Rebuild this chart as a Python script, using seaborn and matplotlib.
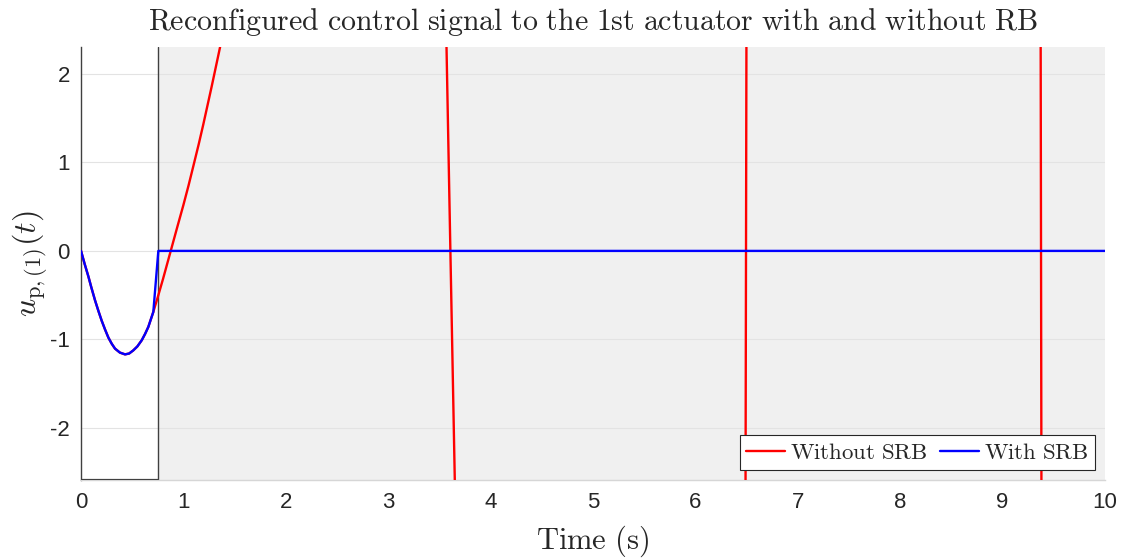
import numpy as np
import pandas as pd
import matplotlib
matplotlib.use("Agg")
import matplotlib.pyplot as plt
import seaborn as sns

# Control signal to actuator 1 without the supervisory reconfiguration block
t_without = [0, 0.036, 0.072, 0.10, 0.137, 0.17, 0.202, 0.235, 0.267, 0.30, 0.332,
             0.38, 0.43, 0.47, 0.51, 0.55, 0.593, 0.625, 0.657, 0.68, 0.706,
             0.75, 0.80, 0.876, 0.94, 1.0, 1.05, 1.097, 1.15, 1.194, 1.276, 1.357,
             1.6, 2.2, 2.8, 3.3, 3.52, 3.607, 3.69, 4.2, 5.0, 5.8, 6.3, 6.48,
             6.494, 6.508, 7.0, 8.0, 8.9, 9.36, 9.375, 9.39, 10.0]
u_without = [0, -0.15, -0.29, -0.41, -0.56, -0.68, -0.79, -0.89, -0.98, -1.05, -1.105,
             -1.15, -1.17, -1.16, -1.125, -1.08, -1.01, -0.94, -0.86, -0.78, -0.69,
             -0.52, -0.32, 0, 0.27, 0.52, 0.74, 0.96, 1.21, 1.43, 1.86, 2.3,
             4.0, 9.0, 11.0, 8.0, 5.3, 0, -5.0, -30.0, -50.0, -40.0, -20.0, -8.0,
             0, 8.0, 100.0, 600.0, 300.0, 10.0, 0, -10.0, -800.0]

# Control signal with the reconfiguration block active
t_with = [0, 0.036, 0.072, 0.10, 0.137, 0.17, 0.202, 0.235, 0.267, 0.30, 0.332,
          0.38, 0.43, 0.47, 0.51, 0.55, 0.593, 0.625, 0.657, 0.68, 0.706, 0.755, 10.0]
u_with = [0, -0.15, -0.29, -0.41, -0.56, -0.68, -0.79, -0.89, -0.98, -1.05, -1.105,
          -1.15, -1.17, -1.16, -1.125, -1.08, -1.01, -0.94, -0.86, -0.78, -0.69, 0, 0]

x_ticks = [0, 1, 2, 3, 4, 5, 6, 7, 8, 9, 10]
y_ticks = [-2, -1, 0, 1, 2]
t_switch = 0.75

sns.set_theme(style="white")
plt.rcParams["font.family"] = ["Liberation Sans", "DejaVu Sans"]
plt.rcParams["mathtext.fontset"] = "cm"
plt.rcParams["axes.unicode_minus"] = False

fig = plt.figure(figsize=(11.27, 5.6), dpi=100)
ax = fig.add_axes([0.0719, 0.1429, 0.9086, 0.7731])

ax.axvspan(t_switch, 10, color="#f0f0f0", lw=0, zorder=0)
for y in y_ticks:
    ax.axhline(y, color="#e3e3e3", lw=0.8, zorder=0.5)

df_wo = pd.DataFrame({"t": t_without, "u": u_without})
df_w = pd.DataFrame({"t": t_with, "u": u_with})
sns.lineplot(data=df_wo, x="t", y="u", sort=False, color="#ff0000", lw=1.7,
             label=r"$\mathrm{Without\ SRB}$", ax=ax, zorder=3)
sns.lineplot(data=df_w, x="t", y="u", sort=False, color="#0000ff", lw=1.7,
             label=r"$\mathrm{With\ SRB}$", ax=ax, zorder=4)

ylo, yhi = -2.59, 2.305
ax.set_xlim(0, 10)
ax.set_ylim(ylo, yhi)
ax.axvline(t_switch, color="#404040", lw=1.0, zorder=2)
ax.axhline(ylo, xmin=0, xmax=t_switch / 10, color="#404040", lw=1.6, zorder=5)

ax.set_xticks(x_ticks)
ax.set_yticks(y_ticks)
ax.tick_params(axis="both", direction="in", labelsize=16, colors="#262626",
               length=5, width=0.8)
ax.tick_params(axis="x", color="#cccccc", pad=9)
ax.tick_params(axis="y", color="#404040", pad=8)

for s in ["top", "right"]:
    ax.spines[s].set_visible(False)
ax.spines["left"].set_color("#404040")
ax.spines["left"].set_linewidth(1.0)
ax.spines["bottom"].set_color("#d6d6d6")
ax.spines["bottom"].set_linewidth(1.0)

ax.set_xlabel(r"$\mathrm{Time\ (s)}$", fontsize=22, labelpad=7)
ax.set_ylabel(r"$u_{\mathrm{p},(1)}(t)$", fontsize=23, labelpad=0)
ax.set_title(r"$\mathrm{Reconfigured\ control\ signal\ to\ the\ 1st\ actuator\ with\ and\ without\ RB}$",
             fontsize=21.5, pad=12)

leg = ax.legend(loc="lower right", ncol=2, fontsize=16.5, frameon=True, fancybox=False,
                handlelength=1.7, handletextpad=0.25, columnspacing=0.5,
                borderpad=0.25, borderaxespad=0.45)
leg.get_frame().set_edgecolor("#262626")
leg.get_frame().set_linewidth(0.8)
leg.get_frame().set_facecolor("white")
leg.get_frame().set_alpha(1.0)

fig.savefig("out.png", dpi=100)
